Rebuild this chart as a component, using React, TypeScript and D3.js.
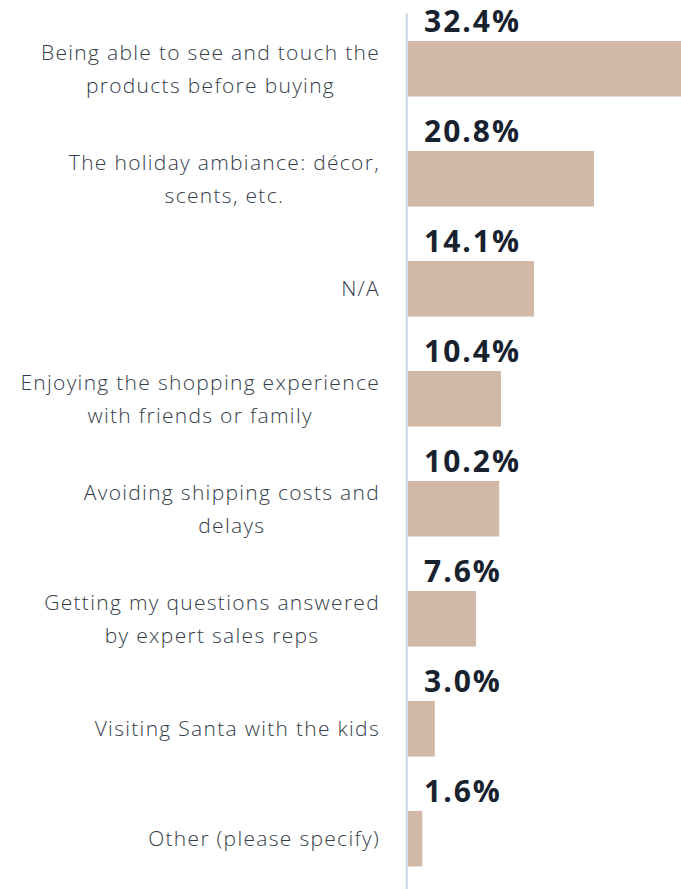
import React, { useEffect, useRef } from "react";
import * as d3 from "d3";

const categories = [
  "Being able to see and touch the\nproducts before buying",
  "The holiday ambiance: décor,\nscents, etc.",
  "N/A",
  "Enjoying the shopping experience\nwith friends or family",
  "Avoiding shipping costs and\ndelays",
  "Getting my questions answered\nby expert sales reps",
  "Visiting Santa with the kids",
  "Other (please specify)",
];
const values = [32.4, 20.8, 14.1, 10.4, 10.2, 7.6, 3.0, 1.6];
const xDomainMax = 35;

const W = 681;
const H = 889;

export default function App() {
  const ref = useRef<SVGSVGElement | null>(null);

  useEffect(() => {
    const svg = d3.select(ref.current);
    svg.selectAll("*").remove();

    const x = d3.scaleLinear().domain([0, xDomainMax]).range([408, 721]);
    const y = d3
      .scaleBand<string>()
      .domain(categories)
      .range([-14, 921.5])
      .paddingInner(0.495)
      .paddingOuter(0.5);

    const bw = y.bandwidth();

    svg
      .append("g")
      .selectAll("rect")
      .data(categories)
      .join("rect")
      .attr("x", x(0))
      .attr("y", (d) => y(d)!)
      .attr("width", (d, i) => x(values[i]) - x(0))
      .attr("height", bw)
      .attr("fill", "#d2b8a7");

    svg
      .append("line")
      .attr("x1", 406.8)
      .attr("x2", 406.8)
      .attr("y1", 13)
      .attr("y2", H)
      .attr("stroke", "#cdd9e8")
      .attr("stroke-width", 2);

    svg
      .append("g")
      .selectAll("text")
      .data(categories)
      .join("text")
      .attr("x", x(0) + 16)
      .attr("y", (d) => y(d)! - 9)
      .attr("font-family", "'Open Sans', sans-serif")
      .attr("font-weight", 700)
      .attr("font-size", 30)
      .attr("letter-spacing", 2)
      .attr("fill", "#18222f")
      .text((d, i) => d3.format(".1f")(values[i]) + "%");

    const labelRight = 380;
    const lineH = 33;
    const lg = svg.append("g");
    categories.forEach((c) => {
      const lines = c.split("\n");
      const cy = y(c)! + bw / 2;
      const t = lg
        .append("text")
        .attr("font-family", "'Open Sans', sans-serif")
        .attr("font-weight", 300)
        .attr("font-size", 21)
        .attr("letter-spacing", 1.3)
        .attr("fill", "#343d4a")
        .attr("text-anchor", "middle");
      const spans = lines.map((l, i) =>
        t
          .append("tspan")
          .attr("y", cy + 7.5 + (i - (lines.length - 1) / 2) * lineH)
          .text(l)
      );
      const maxW = d3.max(spans, (s) => (s.node() as SVGTSpanElement).getComputedTextLength()) || 0;
      spans.forEach((s) => s.attr("x", labelRight - maxW / 2));
    });
  }, []);

  return (
    <svg
      ref={ref}
      width={W}
      height={H}
      style={{ position: "absolute", left: 0, top: 0, background: "#fff" }}
    />
  );
}
